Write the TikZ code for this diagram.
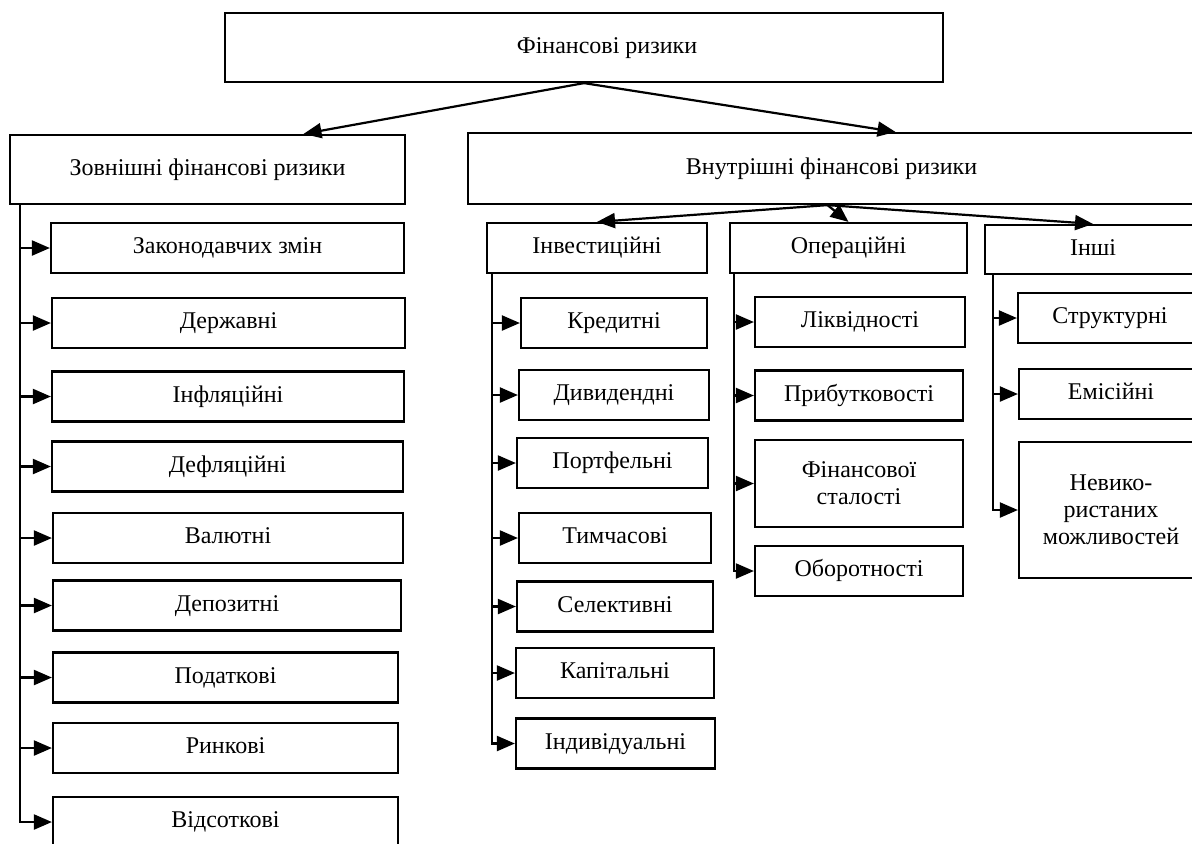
\documentclass[tikz,border=0pt]{standalone}
\usepackage{fontspec}
\setmainfont{Liberation Serif}
\usetikzlibrary{arrows.meta, positioning, calc}

\begin{document}
\begin{tikzpicture}[
    x=0.5pt, y=-0.5pt,
    every node/.style={font=\fontsize{12}{13.4}\selectfont},
    box/.style={draw, line width=1.1pt, fill=white, align=center,
                inner sep=2pt, minimum height=25pt,
                text height=1.6ex, text depth=0.3ex},
    multi/.style={text height={}, text depth={}},
    conn/.style={line width=1.1pt, -{Triangle[length=9pt, width=7.5pt]}},
]
\useasboundingbox (0,0) rectangle (1192,843);
\clip (0,0) rectangle (1192,843);

% top level
\node[box, minimum width=359pt, minimum height=34.5pt] (fin) at (584,47.5) {\hspace*{23pt}Фінансові ризики};
\node[box, minimum width=197.5pt, minimum height=34.5pt] (ext) at (207.5,169.5) {Зовнішні фінансові ризики};
\node[box, minimum width=363.5pt, minimum height=35.5pt] (int) at (831.5,168.5) {Внутрішні фінансові ризики};

\draw[conn] (fin.south) -- ([xshift=48pt]ext.north);
\draw[conn] (fin.south) -- ([xshift=32pt]int.north);

% internal groups
\node[box, minimum width=110pt]   (inv) at (597,248)    {Інвестиційні};
\node[box, minimum width=118.5pt] (op)  at (848.5,248)  {Операційні};
\node[box, minimum width=108pt, minimum height=24.5pt] (oth) at (1093,249.5) {Інші};

\coordinate (hub) at ([xshift=-2pt]int.south);
\draw[conn] (hub) -- (inv.north);
\draw[conn] (hub) -- (op.north);
\draw[conn] (hub) -- (oth.north);

% external risks
\node[box, minimum width=176.5pt] (zak) at (227.5,248) {Законодавчих змін};
\node[box, minimum width=176.5pt] (der) at (228.5,323) {Державні};
\node[box, minimum width=176pt]   (inf) at (228,396.5) {Інфляційні};
\node[box, minimum width=175.5pt] (def) at (227.5,466.5) {Дефляційні};
\node[box, minimum width=175pt]   (val) at (228,538)   {Валютні};
\node[box, minimum width=174pt]   (dep) at (227,605.5) {Депозитні};
\node[box, minimum width=172.5pt] (pod) at (225.5,677.5) {Податкові};
\node[box, minimum width=172.5pt] (rin) at (225.5,748) {Ринкові};
\node[box, minimum width=172.5pt] (vid) at (225.5,822) {Відсоткові};

\coordinate (extS) at ([xshift=5.5pt]ext.south west);
\draw[conn] (extS) |- (zak.west);
\draw[conn] (extS) |- (der.west);
\draw[conn] (extS) |- (inf.west);
\draw[conn] (extS) |- (def.west);
\draw[conn] (extS) |- (val.west);
\draw[conn] (extS) |- (dep.west);
\draw[conn] (extS) |- (pod.west);
\draw[conn] (extS) |- (rin.west);
\draw[conn] (extS) |- (vid.west);

% investment risks
\node[box, minimum width=93pt]   (kre) at (614,323)   {Кредитні};
\node[box, minimum width=95pt]   (div) at (614,395)   {Дивидендні};
\node[box, minimum width=95.5pt] (por) at (612.5,463) {Портфельні};
\node[box, minimum width=96pt]   (tym) at (615,538)   {Тимчасові};
\node[box, minimum width=98pt]   (sel) at (615,606.5) {Селективні};
\node[box, minimum width=99pt]   (kap) at (615,673)   {Капітальні};
\node[box, minimum width=99.5pt] (ind) at (615.5,743.5) {Індивідуальні};

\coordinate (invS) at ([xshift=3pt]inv.south west);
\draw[conn] (invS) |- (kre.west);
\draw[conn] (invS) |- (div.west);
\draw[conn] (invS) |- (por.west);
\draw[conn] (invS) |- (tym.west);
\draw[conn] (invS) |- (sel.west);
\draw[conn] (invS) |- (kap.west);
\draw[conn] (invS) |- (ind.west);

% operational risks
\node[box, minimum width=105pt] (lik) at (860,322)   {Ліквідності};
\node[box, minimum width=104pt] (pri) at (859,395.5) {Прибутковості};
\node[box, multi, minimum width=104pt, minimum height=43.5pt] (fst) at (859,483.5) {Фінансової\\сталості};
\node[box, minimum width=104pt] (obo) at (859,571)   {Оборотності};

\coordinate (opS) at ([xshift=2.5pt]op.south west);
\draw[conn] (opS) |- (lik.west);
\draw[conn] (opS) |- (pri.west);
\draw[conn] (opS) |- (fst.west);
\draw[conn] (opS) |- (obo.west);

% other risks
\node[box, minimum width=92pt] (str) at (1110,318) {Структурні};
\node[box, minimum width=92pt] (emi) at (1111,394) {Емісійні};
\node[box, multi, minimum width=92pt, minimum height=68pt] (nev) at (1111,510) {Невико-\\ристаних\\можливостей};

\coordinate (othS) at ([xshift=4.5pt]oth.south west);
\draw[conn] (othS) |- (str.west);
\draw[conn] (othS) |- (emi.west);
\draw[conn] (othS) |- (nev.west);
\end{tikzpicture}
\end{document}
